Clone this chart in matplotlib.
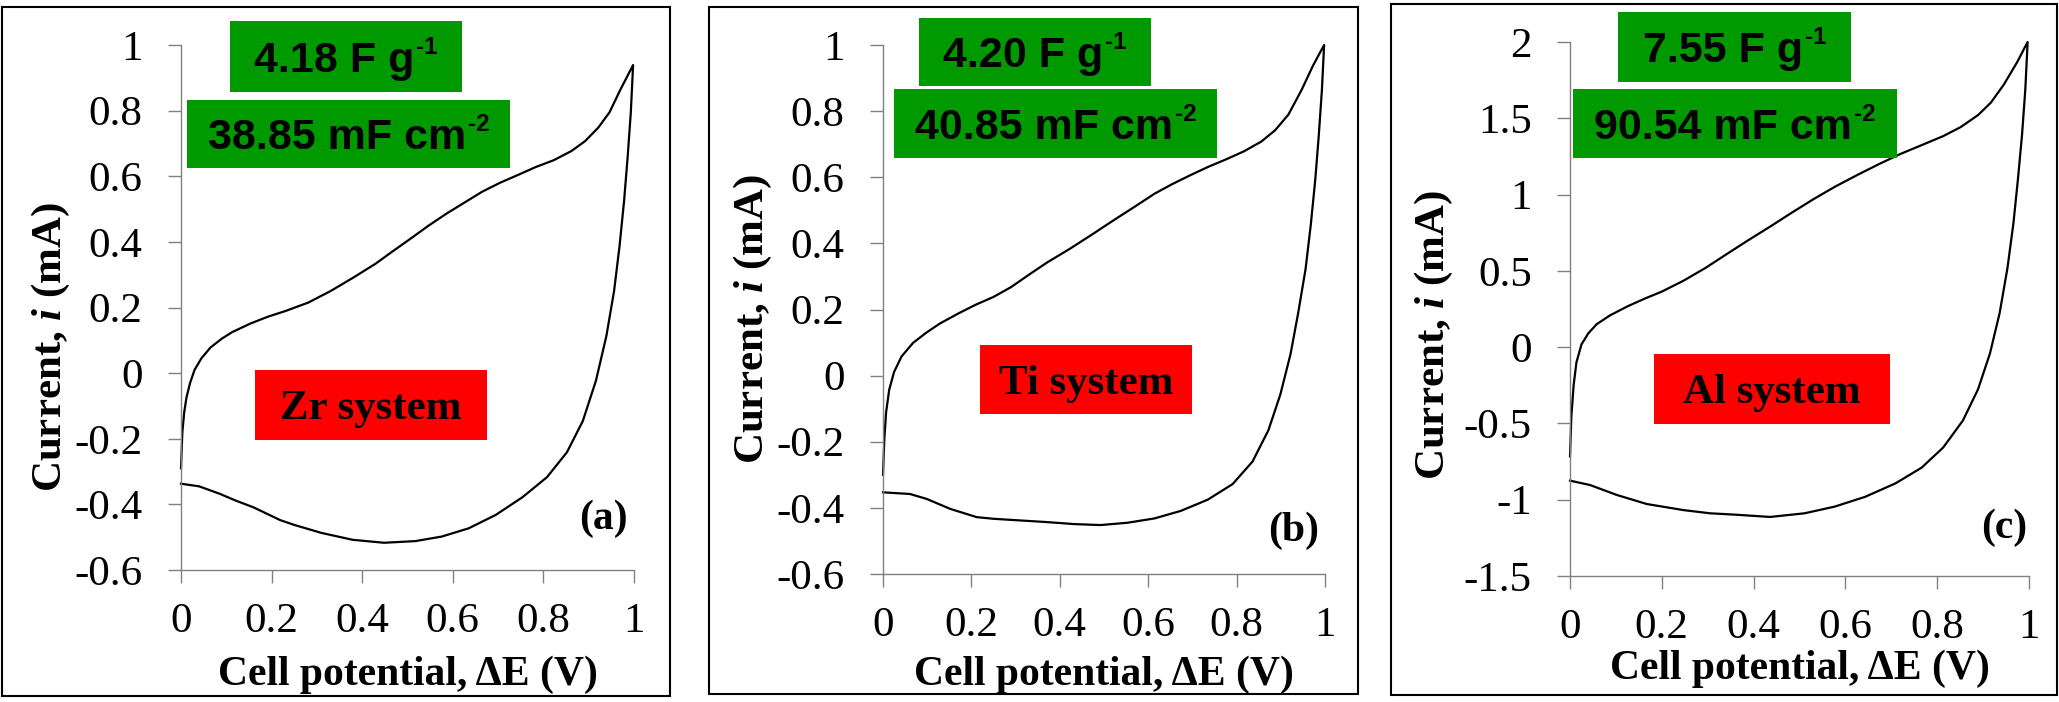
import matplotlib
matplotlib.use("Agg")
import matplotlib.pyplot as plt
from matplotlib.patches import Rectangle

plt.rcParams['font.family'] = 'Liberation Serif'
plt.rcParams['mathtext.fontset'] = 'custom'
plt.rcParams['mathtext.it'] = 'Liberation Serif:bold:italic'

# cyclic voltammograms, anodic (up) and cathodic (down) sweeps
zr_up_x = [0, 0.003, 0.007, 0.012, 0.02, 0.03, 0.045, 0.065, 0.09, 0.113, 0.153, 0.192,
           0.232, 0.281, 0.330, 0.379, 0.429, 0.468, 0.507, 0.547, 0.586, 0.626,
           0.665, 0.704, 0.744, 0.783, 0.823, 0.862, 0.892, 0.921, 0.946, 0.970, 0.998]
zr_up_y = [-0.29, -0.18, -0.12, -0.075, -0.03, 0.01, 0.045, 0.078, 0.105, 0.125, 0.151, 0.172,
           0.19, 0.215, 0.25, 0.29, 0.333, 0.372, 0.41, 0.45, 0.486, 0.520,
           0.553, 0.580, 0.604, 0.628, 0.649, 0.677, 0.707, 0.748, 0.795, 0.864, 0.939]
zr_dn_x = [0.998, 0.993, 0.986, 0.978, 0.968, 0.956, 0.939, 0.916, 0.887, 0.852, 0.808,
           0.754, 0.695, 0.635, 0.576, 0.517, 0.448, 0.379, 0.310, 0.251, 0.219,
           0.160, 0.120, 0.086, 0.04, 0]
zr_dn_y = [0.939, 0.795, 0.659, 0.523, 0.386, 0.250, 0.113, -0.023, -0.146, -0.241, -0.317,
           -0.378, -0.432, -0.473, -0.498, -0.512, -0.517, -0.508, -0.487, -0.463, -0.448,
           -0.409, -0.388, -0.368, -0.345, -0.337]

ti_up_x = [0, 0.003, 0.007, 0.014, 0.025, 0.042, 0.068, 0.098, 0.128, 0.169, 0.209,
           0.250, 0.290, 0.331, 0.371, 0.422, 0.472, 0.523, 0.573, 0.614, 0.654,
           0.695, 0.735, 0.776, 0.816, 0.856, 0.887, 0.917, 0.947, 0.973, 0.998]
ti_up_y = [-0.30, -0.192, -0.111, -0.043, 0.011, 0.058, 0.099, 0.130, 0.157, 0.187, 0.214,
           0.238, 0.268, 0.306, 0.342, 0.383, 0.426, 0.471, 0.514, 0.550, 0.579,
           0.606, 0.631, 0.654, 0.678, 0.708, 0.742, 0.789, 0.864, 0.938, 1.0]
ti_dn_x = [0.998, 0.993, 0.986, 0.978, 0.968, 0.956, 0.939, 0.922, 0.899, 0.872, 0.836,
           0.791, 0.735, 0.674, 0.614, 0.553, 0.492, 0.432, 0.371, 0.310, 0.250,
           0.212, 0.152, 0.099, 0.061, 0]
ti_dn_y = [1.0, 0.864, 0.728, 0.593, 0.458, 0.322, 0.187, 0.065, -0.057, -0.165, -0.260,
           -0.328, -0.375, -0.409, -0.432, -0.445, -0.452, -0.449, -0.443, -0.438, -0.433,
           -0.428, -0.403, -0.373, -0.358, -0.353]

al_up_x = [0, 0.003, 0.008, 0.014, 0.025, 0.040, 0.058, 0.087, 0.125, 0.162, 0.200,
           0.247, 0.294, 0.342, 0.389, 0.436, 0.483, 0.530, 0.577, 0.625, 0.672,
           0.719, 0.766, 0.813, 0.851, 0.889, 0.917, 0.945, 0.974, 0.997]
al_up_y = [-0.716, -0.452, -0.247, -0.100, 0.018, 0.091, 0.150, 0.208, 0.267, 0.317, 0.364,
           0.435, 0.517, 0.611, 0.702, 0.790, 0.881, 0.969, 1.051, 1.127, 1.198,
           1.265, 1.324, 1.383, 1.442, 1.521, 1.603, 1.720, 1.867, 2.0]
al_dn_x = [0.997, 0.992, 0.985, 0.976, 0.966, 0.953, 0.936, 0.915, 0.889, 0.856, 0.813,
           0.766, 0.709, 0.643, 0.577, 0.511, 0.436, 0.360, 0.305, 0.247, 0.167,
           0.102, 0.044, 0]
al_dn_y = [2.0, 1.691, 1.398, 1.104, 0.810, 0.517, 0.223, -0.041, -0.276, -0.481, -0.658,
           -0.790, -0.893, -0.981, -1.045, -1.089, -1.113, -1.098, -1.089, -1.068, -1.028,
           -0.969, -0.904, -0.875]

x_ticks = [0, 0.2, 0.4, 0.6, 0.8, 1]
x_ticklabels = ['0', '0.2', '0.4', '0.6', '0.8', '1']
zr_ti_yticks = [-0.6, -0.4, -0.2, 0, 0.2, 0.4, 0.6, 0.8, 1]
zr_ti_yticklabels = ['-0.6', '-0.4', '-0.2', '0', '0.2', '0.4', '0.6', '0.8', '1']
al_yticks = [-1.5, -1, -0.5, 0, 0.5, 1, 1.5, 2]
al_yticklabels = ['-1.5', '-1', '-0.5', '0', '0.5', '1', '1.5', '2']

grav_caps = ['4.18 F g', '4.20 F g', '7.55 F g']
area_caps = ['38.85 mF cm', '40.85 mF cm', '90.54 mF cm']
grav_unit_exp = '-1'
area_unit_exp = '-2'
systems = ['Zr system', 'Ti system', 'Al system']
tags = ['(a)', '(b)', '(c)']

W, H = 2059, 702
fig = plt.figure(figsize=(W / 100, H / 100), dpi=100)
renderer = fig.canvas.get_renderer()


def fx(x):
    return x / W


def fy(y):
    return 1 - y / H


def pts_to_px(size):
    return size * 100 / 72


def rect(x0, y0, x1, y1, **kw):
    fig.patches.append(Rectangle((fx(x0), fy(y1)), fx(x1) - fx(x0), fy(y0) - fy(y1),
                                 transform=fig.transFigure, **kw))


def boxed_text(box, color, text, size, cap, family, sup=None):
    x0, y0, x1, y1 = box
    rect(x0, y0, x1, y1, facecolor=color, edgecolor='none', zorder=3)
    base = (y0 + y1) / 2 + 0.5 * cap * pts_to_px(size)
    main = fig.text(0, fy(base), text, ha='left', va='baseline', fontsize=size,
                    family=family, fontweight='bold', zorder=4)
    w = main.get_window_extent(renderer).width
    total = w
    if sup is not None:
        s = fig.text(0, fy(base - 0.42 * pts_to_px(size)), sup, ha='left', va='baseline',
                     fontsize=size * 0.56, family=family, fontweight='bold', zorder=4)
        ws = s.get_window_extent(renderer).width
        total = w + 2 + ws
    left = (x0 + x1) / 2 - total / 2
    main.set_x(fx(left))
    if sup is not None:
        s.set_x(fx(left + w + 2))


# layout in pixels: frame, axes (l, t, r, b), green boxes, red box, tag, label spots
layout = [
    dict(frame=(2, 7, 670, 696), ax=(181, 45, 634, 570),
         g1=(230, 21, 462, 92), g2=(187, 100, 510, 168), red=(255, 370, 487, 440),
         tag=(603, 519), ylab=(51, 347), xlab_base=685),
    dict(frame=(709, 7, 1358, 694), ax=(883, 45, 1325, 574),
         g1=(919, 18, 1151, 86), g2=(894, 89, 1217, 158), red=(980, 345, 1192, 414),
         tag=(1294, 531), ylab=(753, 319), xlab_base=685),
    dict(frame=(1391, 4, 2057, 695), ax=(1570, 42, 2029, 576),
         g1=(1618, 12, 1851, 82), g2=(1573, 89, 1897, 158), red=(1654, 354, 1890, 424),
         tag=(2004, 528), ylab=(1434, 335), xlab_base=679),
]

curves = [
    (zr_up_x, zr_up_y, zr_dn_x, zr_dn_y, zr_ti_yticks, zr_ti_yticklabels, (-0.6, 1)),
    (ti_up_x, ti_up_y, ti_dn_x, ti_dn_y, zr_ti_yticks, zr_ti_yticklabels, (-0.6, 1)),
    (al_up_x, al_up_y, al_dn_x, al_dn_y, al_yticks, al_yticklabels, (-1.5, 2)),
]

green = '#009a00'
red = '#ff0000'
spine_grey = '#808080'

for i, (lay, (ux, uy, dx, dy, yt, ytl, ylim)) in enumerate(zip(layout, curves)):
    rect(*lay['frame'], facecolor='none', edgecolor='black', linewidth=1.5, zorder=0)

    l, t, r, b = lay['ax']
    ax = fig.add_axes([fx(l), fy(b), fx(r) - fx(l), fy(t) - fy(b)])
    ax.patch.set_alpha(0)
    ax.plot(ux + dx, uy + dy, color='black', lw=1.6, clip_on=False,
            solid_joinstyle='round')
    ax.set_xlim(0, 1)
    ax.set_ylim(*ylim)
    ax.set_xticks(x_ticks, x_ticklabels)
    ax.set_yticks(yt, ytl)
    for s in ('top', 'right'):
        ax.spines[s].set_visible(False)
    for s in ('left', 'bottom'):
        ax.spines[s].set_color(spine_grey)
        ax.spines[s].set_linewidth(1.0)
    ax.tick_params(direction='out', length=9.6, width=1.0, color=spine_grey,
                   labelsize=31, labelcolor='black')
    ax.tick_params(axis='x', pad=14)
    ax.tick_params(axis='y', pad=18)

    fig.text(fx((l + r) / 2), fy(lay['xlab_base']), 'Cell potential, \u0394E (V)',
             ha='center', va='baseline', fontsize=30, fontweight='bold')
    fig.text(fx(lay['ylab'][0]), fy(lay['ylab'][1]), r'Current, $\mathit{i}$ (mA)',
             ha='center', va='center', rotation=90, fontsize=31, fontweight='bold')

    boxed_text(lay['g1'], green, grav_caps[i], 31, 0.716, 'Liberation Sans', grav_unit_exp)
    boxed_text(lay['g2'], green, area_caps[i], 31, 0.716, 'Liberation Sans', area_unit_exp)
    boxed_text(lay['red'], red, systems[i], 31, 0.662, 'Liberation Serif')
    fig.text(fx(lay['tag'][0]), fy(lay['tag'][1]), tags[i], ha='center', va='center',
             fontsize=30, fontweight='bold')

fig.savefig('out.png', dpi=100)
